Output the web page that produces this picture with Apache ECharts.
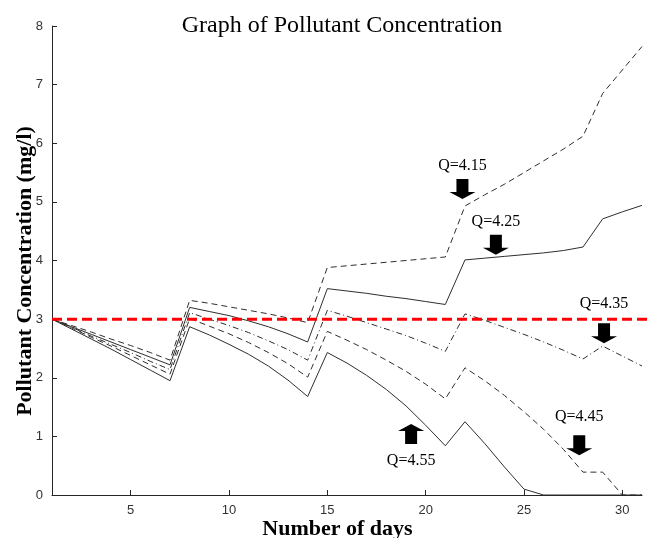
<!DOCTYPE html>
<html>
<head>
<meta charset="utf-8">
<script src="https://cdn.jsdelivr.net/npm/echarts@6/dist/echarts.min.js"></script>
<style>
  html, body { margin: 0; padding: 0; background: #fff; }
  #chart { width: 652px; height: 538px; }
</style>
</head>
<body>
<div id="chart"></div>
<script>
// Day numbers of the simulation
const days = [1, 2, 3, 4, 5, 6, 7, 8, 9, 10, 11, 12, 13, 14, 15, 16,
              17, 18, 19, 20, 21, 22, 23, 24, 25, 26, 27, 28, 29, 30, 31];

// Pollutant concentration (mg/l) for each flow rate Q
const q415 = [3.00, 2.89, 2.78, 2.66, 2.55, 2.43, 2.30,
              3.32, 3.27, 3.21, 3.15, 3.09, 3.02, 2.94,
              3.88, 3.91, 3.94, 3.97, 4.00, 4.03, 4.06,
              4.93, 5.12, 5.30, 5.50, 5.70, 5.90, 6.12,
              6.85, 7.25, 7.65];
const q425 = [3.00, 2.87, 2.74, 2.61, 2.48, 2.35, 2.22,
              3.20, 3.13, 3.06, 2.97, 2.87, 2.75, 2.61,
              3.52, 3.48, 3.44, 3.39, 3.35, 3.30, 3.25,
              4.01, 4.04, 4.07, 4.10, 4.13, 4.17, 4.23,
              4.71, 4.83, 4.94];
const q435 = [3.00, 2.86, 2.71, 2.57, 2.43, 2.28, 2.14,
              3.11, 3.00, 2.89, 2.77, 2.63, 2.48, 2.30,
              3.15, 3.05, 2.94, 2.83, 2.72, 2.59, 2.45,
              3.09, 2.98, 2.86, 2.74, 2.61, 2.47, 2.32,
              2.54, 2.37, 2.20];
const q445 = [3.00, 2.85, 2.69, 2.54, 2.38, 2.22, 2.06,
              3.01, 2.88, 2.75, 2.60, 2.43, 2.24, 2.01,
              2.79, 2.64, 2.48, 2.30, 2.11, 1.89, 1.64,
              2.17, 1.95, 1.70, 1.42, 1.12, 0.78, 0.39,
              0.39, 0.00, 0.00];
const q455 = [3.00, 2.83, 2.66, 2.49, 2.31, 2.13, 1.95,
              2.87, 2.73, 2.57, 2.40, 2.20, 1.96, 1.68,
              2.43, 2.25, 2.04, 1.80, 1.52, 1.19, 0.84,
              1.25, 0.88, 0.48, 0.10, 0.00, 0.00, 0.00,
              0.00, 0.00, 0.00];

// Permitted concentration limit (mg/l)
const limit = 3;

// Tick labels
const xTicks = [5, 10, 15, 20, 25, 30];

// Annotation arrows: label, day and concentration at the arrow tip
const qLabels    = ['Q=4.15', 'Q=4.25', 'Q=4.35', 'Q=4.45', 'Q=4.55'];
const arrowDays  = [21.87, 23.57, 29.07, 27.81, 19.26];
const arrowLevel = [5.05, 4.10, 2.59, 0.68, 1.21];
const arrowUp    = [false, false, false, false, true];
const labelGap   = [5, 5, 11, 10, 9];

const curves = [q415, q425, q435, q445, q455];
const dashes = [[6, 4], 'solid', [6, 3, 1, 3], [6, 4], 'solid'];

const DOWN_ARROW = 'path://M7,0L19,0L19,13L26,13L13,20L0,13L7,13Z';
const UP_ARROW = 'path://M13,0L26,7L19,7L19,20L7,20L7,7L0,7Z';

const serif = '"Liberation Serif", "Times New Roman", serif';
const sans = '"Liberation Sans", Arial, sans-serif';

const chart = echarts.init(document.getElementById('chart'), null, { renderer: 'canvas' });

const series = curves.map(function (vals, i) {
  return {
    type: 'line',
    xAxisIndex: 0,
    yAxisIndex: 0,
    data: days.map(function (d, k) { return [d, vals[k]]; }),
    showSymbol: false,
    symbol: 'none',
    silent: true,
    lineStyle: { color: '#2e2e2e', width: 1, type: dashes[i] },
    markPoint: {
      silent: true,
      symbol: arrowUp[i] ? UP_ARROW : DOWN_ARROW,
      symbolSize: [26, 20],
      symbolOffset: [0, arrowUp[i] ? '50%' : '-50%'],
      itemStyle: { color: '#000' },
      label: {
        show: true,
        position: arrowUp[i] ? 'bottom' : 'top',
        distance: labelGap[i],
        formatter: qLabels[i],
        color: '#000',
        fontFamily: serif,
        fontSize: 16
      },
      data: [{ coord: [arrowDays[i], arrowLevel[i]] }]
    }
  };
});

// Limit line across the full width of the figure
series.push({
  type: 'line',
  xAxisIndex: 1,
  yAxisIndex: 1,
  data: [[0, limit], [1, limit]],
  symbol: 'none',
  silent: true,
  z: 5,
  lineStyle: { color: '#ff0000', width: 3, type: [10, 5] }
});

chart.setOption({
  animation: false,
  backgroundColor: '#fff',
  title: {
    text: 'Graph of Pollutant Concentration',
    left: 337,
    textAlign: 'center',
    top: 9,
    textStyle: { fontFamily: serif, fontWeight: 'normal', fontSize: 24, color: '#000' }
  },
  grid: [
    { left: 52, right: 10, top: 26, bottom: 43, outerBoundsMode: 'none', containLabel: false },
    { left: 52, right: 0, top: 26, bottom: 43, outerBoundsMode: 'none', containLabel: false }
  ],
  xAxis: [
    {
      gridIndex: 0,
      type: 'value',
      min: 1,
      max: 31,
      name: 'Number of days',
      nameLocation: 'middle',
      nameGap: 23,
      nameMoveOverlap: false,
      nameTextStyle: {
        fontFamily: serif, fontWeight: 'bold', fontSize: 22, color: '#000',
        padding: [0, 19, 0, 0]
      },
      splitLine: { show: false },
      axisLine: { lineStyle: { color: '#262626', width: 1 } },
      axisTick: { inside: true, length: 5, customValues: xTicks, lineStyle: { color: '#262626' } },
      axisLabel: { customValues: xTicks, margin: 9, fontFamily: sans, fontSize: 13, color: '#333' }
    },
    { gridIndex: 1, type: 'value', min: 0, max: 1, show: false }
  ],
  yAxis: [
    {
      gridIndex: 0,
      type: 'value',
      min: 0,
      max: 8,
      interval: 1,
      name: 'Pollutant Concentration (mg/l)',
      nameLocation: 'middle',
      nameGap: 16,
      nameMoveOverlap: false,
      nameTextStyle: {
        fontFamily: serif, fontWeight: 'bold', fontSize: 22, color: '#000',
        padding: [0, 21, 0, 0]
      },
      splitLine: { show: false },
      axisLine: { show: true, lineStyle: { color: '#262626', width: 1 } },
      axisTick: { show: true, inside: true, length: 5, lineStyle: { color: '#262626' } },
      axisLabel: { margin: 9, fontFamily: sans, fontSize: 13, color: '#333' }
    },
    { gridIndex: 1, type: 'value', min: 0, max: 8, show: false }
  ],
  series: series
});
</script>
</body>
</html>
